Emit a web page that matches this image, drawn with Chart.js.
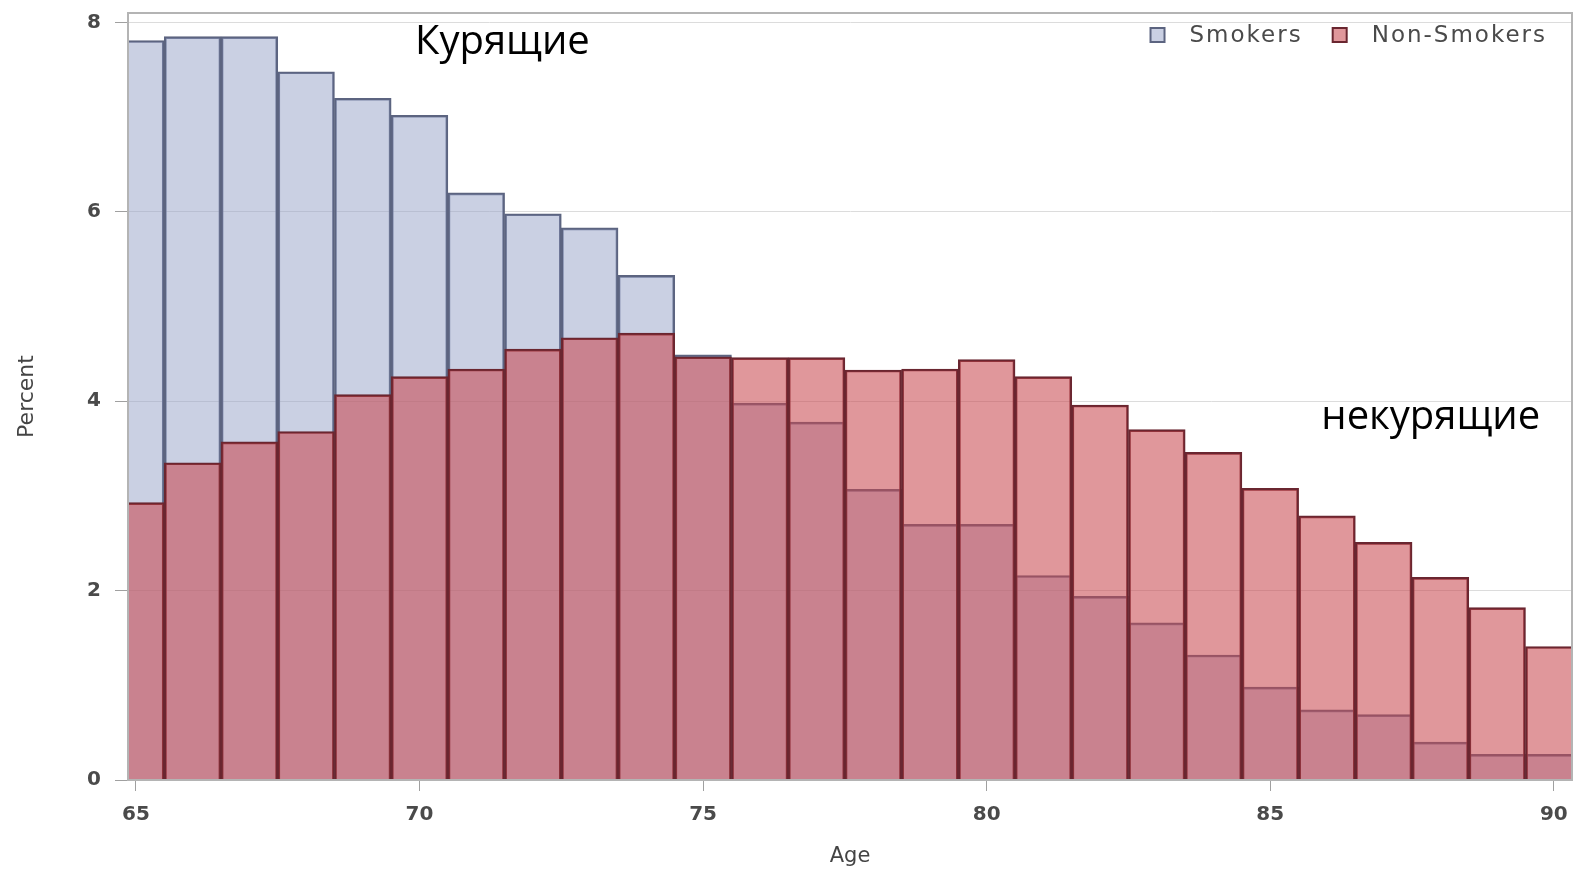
<!DOCTYPE html>
<html lang="ru">
<head>
    <meta charset="UTF-8">
    <title>Smokers vs Non-Smokers by Age</title>
    <script src="https://cdn.jsdelivr.net/npm/chart.js"></script>
    <style>
        body { margin: 0; background: #fff; }
        canvas { display: block; }
    </style>
</head>
<body>
    <canvas id="myChart" width="1578" height="869"></canvas>
    <script>
        // Age bins (1 year wide) and percent per bin
        const ages = [65, 66, 67, 68, 69, 70, 71, 72, 73, 74, 75, 76, 77,
                      78, 79, 80, 81, 82, 83, 84, 85, 86, 87, 88, 89, 90];
        const smokers = [7.81, 7.85, 7.85, 7.48, 7.20, 7.02, 6.20, 5.98, 5.83, 5.33, 4.49, 3.98, 3.78,
                         3.07, 2.70, 2.70, 2.16, 1.94, 1.66, 1.32, 0.98, 0.74, 0.69, 0.40, 0.27, 0.27];
        const nonSmokers = [2.93, 3.35, 3.57, 3.68, 4.07, 4.26, 4.34, 4.55, 4.67, 4.72, 4.47, 4.46, 4.46,
                            4.33, 4.34, 4.44, 4.26, 3.96, 3.70, 3.46, 3.08, 2.79, 2.51, 2.14, 1.82, 1.41];
        const xTicks = [65, 70, 75, 80, 85, 90];
        const yTicks = [0, 2, 4, 6, 8];

        // Russian captions laid over the plot, placed in data units (x = age, y = percent)
        const captions = [
            { text: 'Курящие', x: 69.92, y: 7.67 },
            { text: 'некурящие', x: 85.9, y: 3.71 }
        ];

        const tickFont = { family: 'DejaVu Sans', size: 20, weight: 'bold' };
        const titleFont = { family: 'DejaVu Sans', size: 21 };

        // gray frame around the plot area
        const frame = {
            id: 'frame',
            afterDatasetsDraw(chart) {
                const a = chart.chartArea;
                const ctx = chart.ctx;
                ctx.save();
                ctx.strokeStyle = '#b4b4b4';
                ctx.lineWidth = 2;
                ctx.strokeRect(a.left, a.top, a.right - a.left, a.bottom - a.top);
                ctx.restore();
            }
        };

        // legend in the top right corner of the plot, one row
        const cornerLegend = {
            id: 'cornerLegend',
            afterDraw(chart) {
                const ctx = chart.ctx;
                const a = chart.chartArea;
                const items = [chart.data.datasets[1], chart.data.datasets[0]];
                ctx.save();
                ctx.font = '23px "DejaVu Sans"';
                ctx.letterSpacing = '2px';
                ctx.textBaseline = 'middle';
                ctx.textAlign = 'left';
                const cy = a.top + 22;
                const box = 14, gap = 25, itemGap = 30;
                let total = 0;
                items.forEach((d, i) => {
                    total += box + gap + ctx.measureText(d.label).width + (i ? 0 : itemGap);
                });
                let x = a.right - 25 - total;
                items.forEach(d => {
                    ctx.fillStyle = '#fff';
                    ctx.fillRect(x, cy - box / 2, box, box);
                    ctx.fillStyle = d.backgroundColor;
                    ctx.fillRect(x, cy - box / 2, box, box);
                    ctx.strokeStyle = d.borderColor;
                    ctx.lineWidth = 2;
                    ctx.strokeRect(x, cy - box / 2, box, box);
                    x += box + gap;
                    ctx.fillStyle = '#4a4a4a';
                    ctx.fillText(d.label, x, cy + 1);
                    x += ctx.measureText(d.label).width + itemGap;
                });
                ctx.restore();
            }
        };

        const labels = {
            id: 'captions',
            afterDraw(chart) {
                const ctx = chart.ctx;
                const x = chart.scales.x, y = chart.scales.y;
                ctx.save();
                ctx.font = '40px "Open Sans"';
                ctx.fillStyle = '#000';
                ctx.textAlign = 'left';
                ctx.textBaseline = 'alphabetic';
                captions.forEach(c => {
                    ctx.fillText(c.text, x.getPixelForValue(c.x), y.getPixelForValue(c.y));
                });
                ctx.restore();
            }
        };

        const ctx = document.getElementById('myChart').getContext('2d');
        const myChart = new Chart(ctx, {
            type: 'bar',
            data: {
                datasets: [{
                    // first dataset is painted last, so the red bars sit on top
                    label: 'Non-Smokers',
                    data: ages.map((a, i) => ({ x: a, y: nonSmokers[i] })),
                    backgroundColor: 'rgba(199, 69, 76, 0.56)',
                    borderColor: '#6a2630',
                    borderWidth: 2
                }, {
                    label: 'Smokers',
                    data: ages.map((a, i) => ({ x: a, y: smokers[i] })),
                    backgroundColor: 'rgba(150, 162, 200, 0.5)',
                    borderColor: '#5c6480',
                    borderWidth: 2
                }]
            },
            options: {
                responsive: false,
                animation: false,
                devicePixelRatio: 1,
                grouped: false,
                barPercentage: 1,
                categoryPercentage: 1,
                layout: { padding: { top: 13, right: 6, left: 0, bottom: 0 } },
                scales: {
                    x: {
                        type: 'linear',
                        offset: false,
                        min: 64.86,
                        max: 90.32,
                        afterBuildTicks: s => { s.ticks = xTicks.map(v => ({ value: v })); },
                        afterFit: s => { s.height = 89; s.paddingLeft = 0; s.paddingRight = 0; },
                        grid: { offset: false, drawOnChartArea: false, tickLength: 11, tickColor: '#a0a0a0' },
                        border: { color: '#b4b4b4', width: 2 },
                        ticks: { font: tickFont, color: '#4a4a4a', padding: 12, maxRotation: 0 },
                        title: { display: true, text: 'Age', font: titleFont, color: '#444', padding: { top: 0, bottom: 0 } }
                    },
                    y: {
                        min: 0,
                        max: 8.1,
                        afterBuildTicks: s => { s.ticks = yTicks.map(v => ({ value: v })); },
                        afterFit: s => { s.width = 128; s.paddingTop = 0; s.paddingBottom = 0; },
                        grid: { color: '#dcdcdc', tickLength: 13, tickColor: '#a0a0a0' },
                        border: { color: '#b4b4b4', width: 2 },
                        ticks: { font: tickFont, color: '#4a4a4a', padding: 14 },
                        title: { display: true, text: 'Percent', font: { family: 'DejaVu Sans', size: 22 }, color: '#444', padding: { top: 14, bottom: 0 } }
                    }
                },
                plugins: {
                    legend: { display: false },
                    tooltip: { enabled: false }
                }
            },
            plugins: [frame, cornerLegend, labels]
        });
    </script>
</body>
</html>
